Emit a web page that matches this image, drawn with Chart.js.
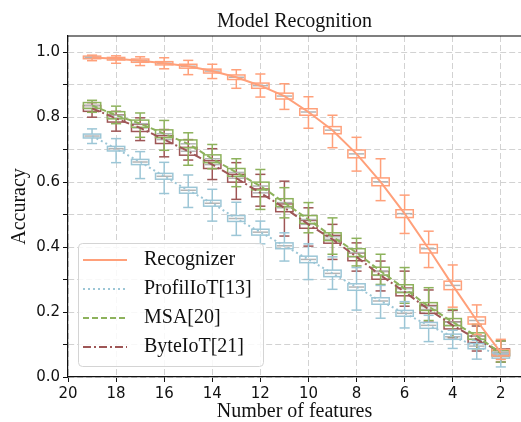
<!DOCTYPE html>
<html>
<head>
<meta charset="utf-8">
<script src="https://cdn.jsdelivr.net/npm/chart.js@4.4.0/dist/chart.umd.min.js"></script>
<style>
  html, body { margin: 0; padding: 0; background: #fff; }
  canvas { display: block; }
</style>
</head>
<body>
<canvas id="accChart" width="521" height="422"></canvas>
<script>
// number of features kept (x positions of the boxes)
const features = [19, 18, 17, 16, 15, 14, 13, 12, 11, 10, 9, 8, 7, 6, 5, 4, 3, 2];

const xTickValues = [20, 18, 16, 14, 12, 10, 8, 6, 4, 2];
const xTickLabels = ["20", "18", "16", "14", "12", "10", "8", "6", "4", "2"];
const yTickValues = [0, 0.1, 0.2, 0.3, 0.4, 0.5, 0.6, 0.7, 0.8, 0.9, 1.0];
const yTickLabels = ["0.0", "", "0.2", "", "0.4", "", "0.6", "", "0.8", "", "1.0"];

// Recognizer
const recMed = [0.984, 0.980, 0.974, 0.966, 0.957, 0.942, 0.923, 0.897, 0.865, 0.816, 0.760, 0.687, 0.601, 0.503, 0.395, 0.282, 0.174, 0.075];
const recQ1  = [0.980, 0.976, 0.969, 0.961, 0.951, 0.936, 0.916, 0.889, 0.856, 0.806, 0.749, 0.675, 0.589, 0.491, 0.382, 0.269, 0.163, 0.065];
const recQ3  = [0.988, 0.984, 0.979, 0.971, 0.963, 0.948, 0.930, 0.905, 0.874, 0.826, 0.771, 0.699, 0.613, 0.515, 0.408, 0.295, 0.185, 0.085];
const recLo  = [0.974, 0.966, 0.959, 0.949, 0.931, 0.919, 0.889, 0.862, 0.824, 0.766, 0.706, 0.634, 0.543, 0.442, 0.337, 0.215, 0.131, 0.054];
const recHi  = [0.991, 0.989, 0.986, 0.983, 0.975, 0.963, 0.946, 0.933, 0.903, 0.863, 0.806, 0.738, 0.672, 0.560, 0.449, 0.345, 0.222, 0.116];

// ProfilIoT[13]
const proMed = [0.742, 0.703, 0.662, 0.618, 0.575, 0.535, 0.488, 0.446, 0.404, 0.362, 0.319, 0.277, 0.234, 0.196, 0.159, 0.124, 0.095, 0.065];
const proQ1  = [0.736, 0.696, 0.654, 0.609, 0.566, 0.526, 0.479, 0.437, 0.395, 0.352, 0.309, 0.267, 0.224, 0.187, 0.150, 0.116, 0.087, 0.058];
const proQ3  = [0.748, 0.710, 0.670, 0.627, 0.584, 0.544, 0.497, 0.455, 0.413, 0.372, 0.329, 0.287, 0.244, 0.205, 0.168, 0.132, 0.103, 0.072];
const proLo  = [0.719, 0.660, 0.611, 0.565, 0.522, 0.480, 0.436, 0.410, 0.357, 0.300, 0.270, 0.206, 0.181, 0.151, 0.109, 0.088, 0.055, 0.031];
const proHi  = [0.764, 0.734, 0.694, 0.661, 0.622, 0.578, 0.538, 0.480, 0.444, 0.410, 0.370, 0.337, 0.282, 0.232, 0.190, 0.144, 0.113, 0.085];

// MSA[20]
const msaMed = [0.836, 0.806, 0.780, 0.749, 0.718, 0.672, 0.630, 0.588, 0.537, 0.485, 0.432, 0.383, 0.326, 0.272, 0.217, 0.169, 0.126, 0.073];
const msaQ1  = [0.827, 0.795, 0.769, 0.737, 0.706, 0.660, 0.618, 0.576, 0.525, 0.473, 0.420, 0.371, 0.314, 0.260, 0.205, 0.158, 0.116, 0.064];
const msaQ3  = [0.845, 0.817, 0.791, 0.761, 0.730, 0.684, 0.642, 0.600, 0.549, 0.497, 0.444, 0.395, 0.338, 0.284, 0.229, 0.180, 0.136, 0.082];
const msaLo  = [0.815, 0.780, 0.738, 0.698, 0.652, 0.641, 0.586, 0.516, 0.490, 0.444, 0.378, 0.342, 0.285, 0.227, 0.174, 0.124, 0.087, 0.046];
const msaHi  = [0.852, 0.834, 0.813, 0.790, 0.752, 0.716, 0.672, 0.639, 0.583, 0.537, 0.490, 0.427, 0.378, 0.337, 0.275, 0.208, 0.162, 0.111];

// ByteIoT[21]
const byteMed = [0.827, 0.796, 0.767, 0.731, 0.695, 0.654, 0.612, 0.567, 0.521, 0.470, 0.424, 0.370, 0.313, 0.262, 0.208, 0.159, 0.116, 0.077];
const byteQ1  = [0.818, 0.785, 0.756, 0.719, 0.683, 0.642, 0.600, 0.555, 0.509, 0.458, 0.412, 0.358, 0.301, 0.250, 0.196, 0.148, 0.106, 0.067];
const byteQ3  = [0.836, 0.807, 0.778, 0.743, 0.707, 0.666, 0.624, 0.579, 0.533, 0.482, 0.436, 0.382, 0.325, 0.274, 0.220, 0.170, 0.126, 0.087];
const byteLo  = [0.800, 0.757, 0.728, 0.678, 0.668, 0.608, 0.547, 0.526, 0.434, 0.403, 0.362, 0.326, 0.265, 0.218, 0.169, 0.121, 0.080, 0.046];
const byteHi  = [0.845, 0.818, 0.798, 0.762, 0.731, 0.703, 0.660, 0.624, 0.603, 0.521, 0.470, 0.413, 0.357, 0.326, 0.268, 0.205, 0.157, 0.111];

const SERIF = "'Liberation Serif', 'Times New Roman', serif";
const SANS = "'DejaVu Sans', sans-serif";

const series = [
  { label: "Recognizer",    color: "#ffa07a", dash: [],           med: recMed,  q1: recQ1,  q3: recQ3,  lo: recLo,  hi: recHi },
  { label: "ProfilIoT[13]", color: "#9cc6d6", dash: [2, 3],       med: proMed,  q1: proQ1,  q3: proQ3,  lo: proLo,  hi: proHi },
  { label: "MSA[20]",       color: "#8db25c", dash: [6, 3],       med: msaMed,  q1: msaQ1,  q3: msaQ3,  lo: msaLo,  hi: msaHi },
  { label: "ByteIoT[21]",   color: "#9e5656", dash: [8, 3, 2, 3], med: byteMed, q1: byteQ1, q3: byteQ3, lo: byteLo, hi: byteHi },
];

function seg(ctx, x1, y1, x2, y2) {
  ctx.beginPath();
  ctx.moveTo(x1, y1);
  ctx.lineTo(x2, y2);
  ctx.stroke();
}

// box plots drawn under the lines, through the chart's own scales
const boxPlugin = {
  id: "boxes",
  beforeDatasetsDraw(chart) {
    const { ctx, scales: { x, y } } = chart;
    ctx.save();
    ctx.setLineDash([]);
    for (let s = series.length - 1; s >= 0; s--) {
      const sr = series[s];
      features.forEach((f, i) => {
        const cx = x.getPixelForValue(f);
        const hw = Math.abs(x.getPixelForValue(f - 0.36) - cx);
        const cw = Math.abs(x.getPixelForValue(f - 0.21) - cx);
        const yq1 = y.getPixelForValue(sr.q1[i]);
        const yq3 = y.getPixelForValue(sr.q3[i]);
        const ylo = y.getPixelForValue(sr.lo[i]);
        const yhi = y.getPixelForValue(sr.hi[i]);
        const ymed = y.getPixelForValue(sr.med[i]);
        ctx.strokeStyle = sr.color;
        ctx.lineWidth = 1.5;
        ctx.strokeRect(cx - hw, yq3, hw * 2, yq1 - yq3);
        seg(ctx, cx, yq3, cx, yhi);
        seg(ctx, cx, yq1, cx, ylo);
        seg(ctx, cx - cw, yhi, cx + cw, yhi);
        seg(ctx, cx - cw, ylo, cx + cw, ylo);
        ctx.strokeStyle = "#b4b4b4";
        ctx.lineWidth = 1.5;
        seg(ctx, cx - hw + 1, ymed, cx + hw - 1, ymed);
      });
    }
    ctx.restore();
  },
  afterDraw(chart) {
    const { ctx, chartArea } = chart;
    ctx.save();
    // top spine
    ctx.strokeStyle = "#000";
    ctx.lineWidth = 1.2;
    seg(ctx, chartArea.left, chartArea.top, chartArea.right, chartArea.top);

    // legend in the lower left of the axes
    const lx = 78.5, ly = 243.5, lw = 185, lh = 123;
    ctx.beginPath();
    ctx.roundRect(lx, ly, lw, lh, 4);
    ctx.fillStyle = "rgba(255,255,255,0.85)";
    ctx.fill();
    ctx.strokeStyle = "#d4d4d4";
    ctx.lineWidth = 1;
    ctx.stroke();

    ctx.font = "20px " + SERIF;
    ctx.textBaseline = "middle";
    ctx.textAlign = "left";
    chart.data.datasets.forEach((ds, i) => {
      const rowY = 260 + i * 29;
      ctx.strokeStyle = ds.borderColor;
      ctx.lineWidth = 2;
      ctx.setLineDash(ds.borderDash || []);
      seg(ctx, 83, rowY, 127, rowY);
      ctx.setLineDash([]);
      ctx.fillStyle = "#111";
      ctx.fillText(ds.label, 144, rowY);
    });
    ctx.restore();
  }
};

Chart.defaults.font.family = SANS;
Chart.defaults.color = "#111";

new Chart(document.getElementById("accChart"), {
  type: "line",
  data: {
    datasets: series.map(sr => ({
      label: sr.label,
      data: features.map((f, i) => ({ x: f, y: sr.med[i] })),
      borderColor: sr.color,
      borderDash: sr.dash,
      borderWidth: 2,
      pointRadius: 0,
      fill: false,
      tension: 0,
    })),
  },
  options: {
    responsive: false,
    animation: false,
    devicePixelRatio: 1,
    layout: { padding: 0 },
    plugins: {
      legend: { display: false },
      tooltip: { enabled: false },
      title: {
        display: true,
        text: "Model Recognition",
        fullSize: false,
        color: "#111",
        font: { family: SERIF, size: 20, weight: "normal", lineHeight: 1.2 },
        padding: { top: 10, bottom: 2 },
      },
    },
    scales: {
      x: {
        type: "linear",
        reverse: true,
        min: 1.16,
        max: 20,
        afterBuildTicks: s => { s.ticks = xTickValues.map(v => ({ value: v })); },
        afterFit: s => { s.height = 45; },
        ticks: {
          autoSkip: false,
          maxRotation: 0,
          padding: 3,
          color: "#111",
          font: { size: 15 },
          callback: (v, i) => xTickLabels[i],
        },
        grid: { color: "#d2d2d2", lineWidth: 1, tickLength: 5, tickColor: "#111", tickWidth: 1 },
        border: { color: "#111", width: 1.2, dash: [6, 3] },
        title: {
          display: true,
          text: "Number of features",
          color: "#111",
          font: { family: SERIF, size: 20, lineHeight: 1 },
          padding: { top: 0, bottom: 0 },
        },
      },
      y: {
        min: 0,
        max: 1.05,
        afterBuildTicks: s => { s.ticks = yTickValues.map(v => ({ value: v })); },
        afterFit: s => { s.width = 68; },
        ticks: {
          autoSkip: false,
          padding: 3,
          color: "#111",
          font: { size: 15 },
          callback: (v, i) => yTickLabels[i],
        },
        grid: { color: "#d2d2d2", lineWidth: 1, tickLength: 5, tickColor: "#111", tickWidth: 1 },
        border: { color: "#111", width: 1.2, dash: [6, 3] },
        title: {
          display: true,
          text: "Accuracy",
          color: "#111",
          font: { family: SERIF, size: 20, lineHeight: 1 },
          padding: { top: 10, bottom: 0 },
        },
      },
    },
  },
  plugins: [boxPlugin],
});
</script>
</body>
</html>
